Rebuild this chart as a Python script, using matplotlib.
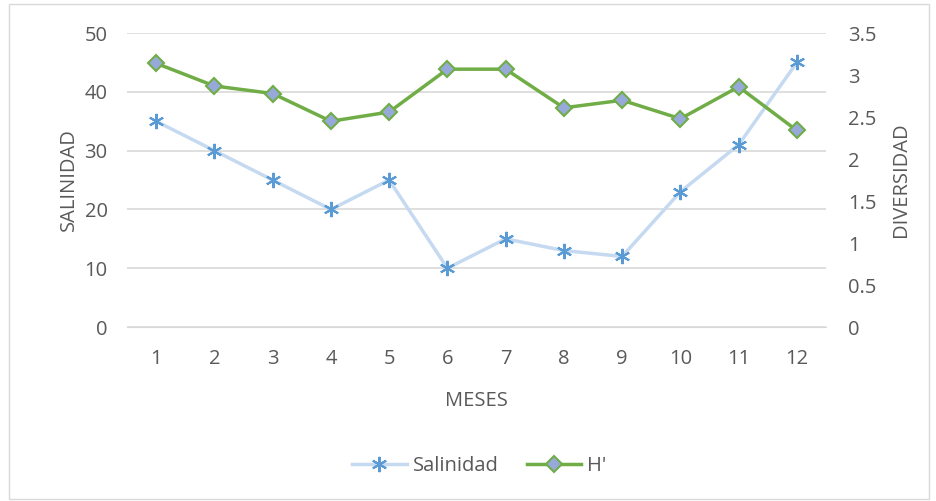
import matplotlib.pyplot as plt
from matplotlib.patches import Rectangle

plt.rcParams['font.family'] = ['Open Sans', 'DejaVu Sans']

meses = [1, 2, 3, 4, 5, 6, 7, 8, 9, 10, 11, 12]
salinidad = [35, 30, 25, 20, 25, 10, 15, 13, 12, 23, 31, 45]
diversidad = [3.14, 2.87, 2.78, 2.45, 2.56, 3.07, 3.07, 2.61, 2.70, 2.48, 2.86, 2.34]

gris = '#595959'
fs = 14.5
fig = plt.figure(figsize=(9.36, 5.01), dpi=100)
fig.patches.append(Rectangle((9 / 936, 2 / 501), 920 / 936, 495 / 501,
                             transform=fig.transFigure, fill=False,
                             edgecolor='#d9d9d9', linewidth=1))

ax = fig.add_axes([0.1357, 0.3473, 0.7468, 0.5867])
ax2 = ax.twinx()

l1, = ax.plot(meses, salinidad, color='#c5daf0', linewidth=2.5,
              marker=(6, 2, 0), markersize=11, markeredgecolor='#5b9bd5',
              markeredgewidth=1.5, zorder=3, label='Salinidad')
l2, = ax2.plot(meses, diversidad, color='#70ad47', linewidth=2.5,
               marker='D', markersize=8, markerfacecolor='#97a9d9',
               markeredgecolor='#70ad47', markeredgewidth=1.5, label="H'")

ax.set_xlim(0.5, 12.5)
ax.set_ylim(0, 50)
ax2.set_ylim(0, 3.5)
ax.set_xticks(meses)
ax.set_yticks(range(0, 51, 10))
ax2.set_yticks([0, 0.5, 1, 1.5, 2, 2.5, 3, 3.5])
ax2.set_yticklabels(['0', '0.5', '1', '1.5', '2', '2.5', '3', '3.5'])

ax.grid(axis='y', color='#d9d9d9', linewidth=1.2)
ax.set_axisbelow(True)
for a in (ax, ax2):
    for s in a.spines.values():
        s.set_visible(False)
    a.tick_params(length=0, labelsize=fs, colors=gris)
ax.spines['bottom'].set_visible(True)
ax.spines['bottom'].set_color('#d9d9d9')
ax.tick_params(axis='y', pad=14)
ax.tick_params(axis='x', pad=16)
ax2.tick_params(axis='y', pad=16)

ax.set_xlabel('MESES', fontsize=fs, color=gris, labelpad=16)
ax.set_ylabel('SALINIDAD', fontsize=fs, color=gris, labelpad=4)
ax2.set_ylabel('DIVERSIDAD', fontsize=fs, color=gris, labelpad=10)

fig.legend(handles=[l1, l2], loc='center', bbox_to_anchor=(0.512, 0.07),
           ncol=2, frameon=False, fontsize=fs, labelcolor=gris,
           handlelength=2.7, handletextpad=0.3, columnspacing=1.4)

fig.savefig('out.png', dpi=100)
